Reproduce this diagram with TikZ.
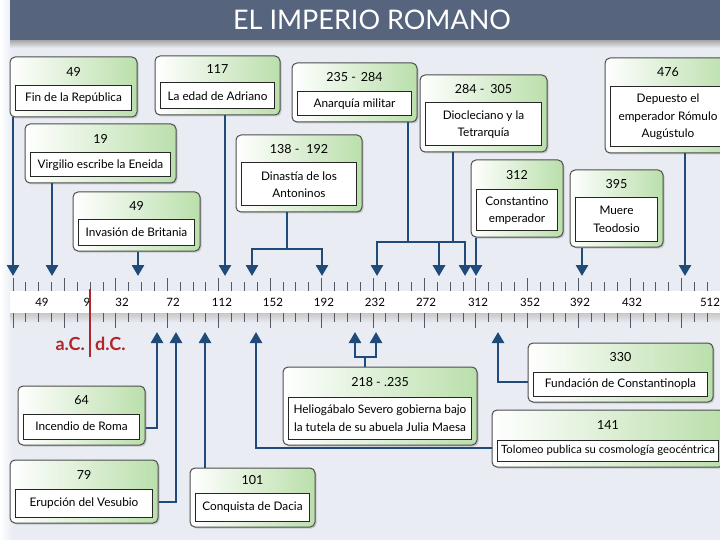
\documentclass[tikz,border=0pt]{standalone}
\usepackage{fontspec}
\setmainfont{Lato}
\usetikzlibrary{arrows.meta,shadows,calc}
\definecolor{bgc}{HTML}{E9EDF3}
\definecolor{titlec}{HTML}{56647E}
\definecolor{arrowc}{HTML}{1F4A7A}
\definecolor{borderc}{HTML}{4D4D4D}
\definecolor{boxgreen}{HTML}{BADFAB}
\definecolor{redc}{HTML}{B0262B}
\definecolor{tickc}{HTML}{555A62}
\newcommand\evbox[8]{%
 \pgfmathsetmacro\evcx{(#2+#4)/2}%
 \pgfmathsetmacro\evcy{(#3+#5)/2}%
 \pgfmathsetmacro\evww{#4-#2}%
 \pgfmathsetmacro\evhh{#5-#3}%
 \pgfmathsetmacro\evicy{(#6+#5-6)/2}%
 \pgfmathsetmacro\evih{#5-6-#6}%
 \pgfmathsetmacro\eviw{#4-#2-11}%
 \pgfmathsetmacro\evyy{(#3+#6)/2}%
 \node[outerbox, minimum width=\evww pt, minimum height=\evhh pt] (#1) at (\evcx,\evcy) {};
 \node[innerbox, minimum width=\eviw pt, minimum height=\evih pt] (#1-t) at (\evcx,\evicy) {#8};
 \node[yeartext] (#1-y) at (\evcx,\evyy) {#7};
}
\begin{document}
\begin{tikzpicture}[x=1pt,y=-1pt,
  outerbox/.style={draw=borderc, line width=1pt, rounded corners=5pt, left color=white, right color=boxgreen, inner sep=0pt,
     drop shadow={shadow xshift=1.5pt, shadow yshift=-1.5pt, opacity=0.35}},
  innerbox/.style={draw=black!85, line width=1pt, fill=white, inner sep=1pt, align=center,
     font=\fontsize{11.8}{17.5}\selectfont},
  yeartext/.style={font=\fontsize{12.5}{14}\selectfont, inner sep=0pt},
  arr/.style={draw=arrowc, line width=2.6pt, -{Triangle[width=12pt,length=11pt]}},
  tick/.style={draw=tickc, line width=1pt},
  ticklabel/.style={font=\fontsize{11.5}{13}\selectfont, inner sep=0pt}]
\useasboundingbox (0,0) rectangle (720,540);
\clip (0,0) rectangle (720,540);
% background
\fill[bgc] (0,0) rectangle (720,540);
\shade[left color=white, right color=bgc] (0,0) rectangle (12,540);
% title
\shade[top color=black!35, bottom color=bgc] (10,40) rectangle (720,48);
\fill[titlec] (10,0) rectangle (720,40);
\node[text=white, font=\fontsize{27}{32}\selectfont, inner sep=0pt] (title) at (372,20) {EL IMPERIO ROMANO};
% timeline band
\shade[top color=black!22, bottom color=bgc] (10,313) rectangle (720,323);
\fill[white] (10,291) rectangle (720,313);
\foreach \i in {0,...,55}{
  \draw[tick] ({13+\i*12.857},282) -- ({13+\i*12.857},291);
  \draw[tick] ({13+\i*12.857},313) -- ({13+\i*12.857},322);
}
\foreach \i in {0,4,...,52}{
  \draw[tick] ({13+\i*12.857},278) -- ({13+\i*12.857},291);
  \draw[tick] ({13+\i*12.857},313) -- ({13+\i*12.857},328);
}
\foreach \x/\l in {42/49,87/9,122/32,173/72,222/112,273/152,324/192,375/232,426/272,478/312,530/352,580/392,632/432,710/512}
  \node[ticklabel] (lbl\l) at (\x,302) {\l};
% a.C. / d.C.
\draw[redc, line width=2.4pt] (90,289) -- (90,357);
\node[text=redc, font=\fontsize{18}{20}\selectfont\bfseries, anchor=east, inner sep=0pt] (ac) at (85,344) {a.C.};
\node[text=redc, font=\fontsize{18}{20}\selectfont\bfseries, anchor=west, inner sep=0pt] (dc) at (95,344) {d.C.};
% arrow tips and junctions
\coordinate (a1) at (13,276);
\coordinate (a2) at (52,276);
\coordinate (a3) at (138,276);
\coordinate (a4) at (225,276);
\coordinate (a5) at (252,276);
\coordinate (a6) at (322,276);
\coordinate (a7) at (377,276);
\coordinate (a8) at (439,276);
\coordinate (a9) at (465,276);
\coordinate (a10) at (476,276);
\coordinate (a11) at (582,276);
\coordinate (a12) at (685,276);
\coordinate (j1) at (287,249);
\coordinate (j2) at (408,242);
\coordinate (j3) at (453,242);
\coordinate (b1) at (157,332);
\coordinate (b2) at (176,332);
\coordinate (b3) at (205,332);
\coordinate (b4) at (256,332);
\coordinate (b5) at (355,332);
\coordinate (b6) at (376,332);
\coordinate (b7) at (498,332);
\coordinate (j4) at (365,357);
% boxes: name, x1,y1,x2,y2, inner top, year, text
\evbox{rep}{10}{57}{137}{117}{86}{49}{Fin de la República}
\evbox{adr}{155}{56}{280}{115}{83}{117}{La edad de Adriano}
\evbox{vir}{25}{124}{176}{183}{153}{19}{Virgilio escribe la Eneida}
\evbox{bri}{73}{192}{200}{251}{220}{49}{Invasión de Britania}
\evbox{ant}{236}{135}{362}{212}{163}{138 -\hspace{7pt}192}{Dinastía de los\\Antoninos}
\evbox{ana}{292}{63}{417}{122}{92}{235 -\hspace{5pt}284}{Anarquía militar}
\evbox{dio}{420}{75}{547}{152}{103}{284 -\hspace{6pt}305}{Diocleciano y la\\Tetrarquía}
\evbox{con}{471}{160}{563}{237}{190}{312}{Constantino\\emperador}
\evbox{teo}{570}{170}{663}{247}{198}{395}{Muere\\Teodosio}
\evbox{rom}{605}{58}{731}{153}{87}{476}{Depuesto el\\emperador Rómulo\\Augústulo}
\evbox{inc}{18}{386}{145}{445}{414}{64}{Incendio de Roma}
\evbox{ves}{10}{460}{158}{523}{489}{79}{Erupción del Vesubio}
\evbox{dac}{190}{468}{315}{527}{493}{101}{Conquista de Dacia}
\evbox{hel}{283}{367}{477}{445}{397}{218 - .235}{Heliogábalo Severo gobierna bajo\\la tutela de su abuela Julia Maesa}
\evbox{fun}{528}{343}{713}{402}{372}{330}{Fundación de Constantinopla}
\evbox{tol}{492}{410}{724}{467}{440}{141}{\fontsize{11.3}{17}\selectfont Tolomeo publica su cosmología geocéntrica}
% connectors
\draw[arr] (rep.south -| a1) -- (a1);
\draw[arr] (vir.south -| a2) -- (a2);
\draw[arr] (bri.south -| a3) -- (a3);
\draw[arr] (adr.south -| a4) -- (a4);
\draw[arr] (ant.south -| j1) -- (j1) -| (a5);
\draw[arr] (j1) -| (a6);
\draw[arr] (ana.south -| j2) -- (j2) -| (a7);
\draw[arr] (j2) -| (a8);
\draw[arr] (dio.south -| j3) -- (j3) -| (a9);
\draw[arr] (j3) -| (a8);
\draw[arr] (con.south -| a10) -- (a10);
\draw[arr] (teo.south -| a11) -- (a11);
\draw[arr] (rom.south -| a12) -- (a12);
\draw[arr] (inc.east |- 0,428) -| (b1);
\draw[arr] (ves.east |- 0,502) -| (b2);
\draw[arr] (dac.north -| b3) -- (b3);
\draw[arr] (tol.west |- 0,448) -| (b4);
\draw[arr] (hel.north -| j4) -- (j4) -| (b5);
\draw[arr] (j4) -| (b6);
\draw[arr] (fun.west |- 0,382) -| (b7);
\end{tikzpicture}
\end{document}
